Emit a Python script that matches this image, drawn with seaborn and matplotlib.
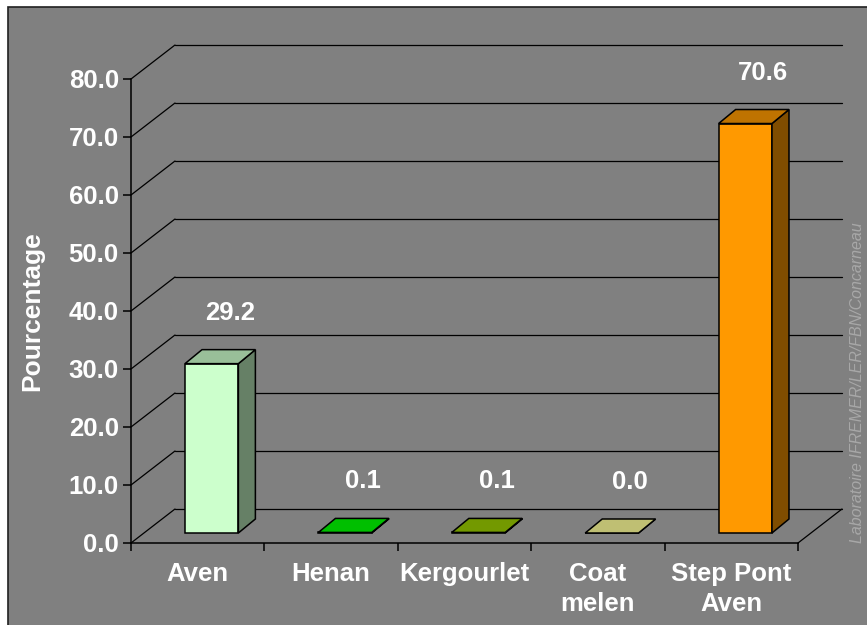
import numpy as np
import pandas as pd
import matplotlib.pyplot as plt
import matplotlib.transforms as mtransforms
from matplotlib.patches import Polygon, Rectangle
from matplotlib.lines import Line2D
import seaborn as sns

# Donnees
sites = ["Aven", "Henan", "Kergourlet", "Coat\nmelen", "Step Pont\nAven"]
pourcentages = [29.2, 0.1, 0.1, 0.0, 70.6]
couleurs = ["#CCFFCC", "#00FF00", "#99CC00", "#FFFF99", "#FF9900"]
graduations = [0, 10, 20, 30, 40, 50, 60, 70, 80]

sns.set_theme(style="white")
plt.rcParams['font.family'] = ['Liberation Sans', 'DejaVu Sans']

FOND = "#808080"
TAILLE = 18.5

fig = plt.figure(figsize=(8.67, 6.25), dpi=100, facecolor="white")
# cadre gris du graphique
fig.add_artist(Rectangle((8 / 867, -0.05), 1.1, 1.05 - 7 / 625,
                         transform=fig.transFigure, facecolor=FOND,
                         edgecolor="#202020", linewidth=1.2, zorder=0))

ax = fig.add_axes([131 / 867, 82 / 625, 667 / 867, 464 / 625])
ax.set_facecolor("none")

df = pd.DataFrame({"Site": sites, "Pourcentage": pourcentages})
sns.barplot(data=df, x="Site", y="Pourcentage", hue="Site", palette=couleurs,
            saturation=1, width=0.4, edgecolor="black", linewidth=1.1,
            legend=False, ax=ax, zorder=3)
barres = list(ax.patches)

ax.set_xlim(-0.5, 4.5)
ax.set_ylim(0, 80)

# decalages pour l'effet 3D (en pixels)
avant = mtransforms.offset_copy(ax.transData, fig=fig, x=14, y=10, units="dots")
arriere = mtransforms.offset_copy(ax.transData, fig=fig, x=31, y=24, units="dots")
fond = mtransforms.offset_copy(ax.transData, fig=fig, x=44, y=34, units="dots")
ecran = mtransforms.IdentityTransform()

# murs et quadrillage
for v in graduations:
    ax.add_line(Line2D([-0.5, 4.5], [v, v], transform=fond, color="black",
                       lw=0.9, zorder=1, clip_on=False))
    p0 = ax.transData.transform((-0.5, v))
    p1 = fond.transform((-0.5, v))
    ax.add_line(Line2D([p0[0], p1[0]], [p0[1], p1[1]], transform=ecran,
                       color="black", lw=0.9, zorder=1, clip_on=False))
p0 = ax.transData.transform((4.5, 0))
p1 = fond.transform((4.5, 0))
ax.add_line(Line2D([p0[0], p1[0]], [p0[1], p1[1]], transform=ecran,
                   color="black", lw=0.9, zorder=1, clip_on=False))

# barres en 3D
for p, v in zip(barres, pourcentages):
    x0, w, h = p.get_x(), p.get_width(), p.get_height()
    rgb = np.array(p.get_facecolor()[:3])
    p.set_transform(avant)
    p.set_clip_on(False)
    dessus = [avant.transform((x0, h)), avant.transform((x0 + w, h)),
              arriere.transform((x0 + w, h)), arriere.transform((x0, h))]
    cote = [avant.transform((x0 + w, 0)), arriere.transform((x0 + w, 0)),
            arriere.transform((x0 + w, h)), avant.transform((x0 + w, h))]
    ax.add_patch(Polygon(cote, closed=True, transform=ecran, facecolor=rgb * 0.5,
                         edgecolor="black", lw=1.1, zorder=3, clip_on=False))
    ax.add_patch(Polygon(dessus, closed=True, transform=ecran, facecolor=rgb * 0.75,
                         edgecolor="black", lw=1.1, zorder=3, clip_on=False))
    ax.annotate(f"{v:.1f}", xy=(x0 + w / 2, h), xytext=(32, 54),
                textcoords="offset pixels", ha="center", va="baseline",
                fontsize=TAILLE, fontweight="bold", color="white")

ax.set_xlim(-0.5, 4.5)
ax.set_ylim(0, 80)

# axes
for cote_ax in ["top", "right"]:
    ax.spines[cote_ax].set_visible(False)
for cote_ax in ["left", "bottom"]:
    ax.spines[cote_ax].set_color("black")
    ax.spines[cote_ax].set_linewidth(1.1)

ax.set_yticks(graduations, labels=[f"{v:.1f}" for v in graduations])
ax.set_xticks([-0.5, 0.5, 1.5, 2.5, 3.5, 4.5], labels=[""] * 6)
ax.set_xticks(range(len(sites)), labels=sites, minor=True)
ax.tick_params(axis="y", direction="out", length=5.8, width=1.1, color="black",
               pad=3, labelsize=TAILLE, labelcolor="white", left=True)
ax.tick_params(axis="x", which="major", direction="out", length=5.8, width=1.1,
               color="black", bottom=True)
ax.tick_params(axis="x", which="minor", length=0, pad=13.5, labelsize=TAILLE,
               labelcolor="white")
for lab in ax.get_yticklabels() + ax.get_xticklabels(minor=True):
    lab.set_fontweight("bold")
for lab in ax.get_xticklabels(minor=True):
    lab.set_linespacing(1.35)
ax.set_xlabel("")
ax.set_ylabel("")

fig.text(32 / 867, 1 - 311 / 625, "Pourcentage", rotation=90, ha="center",
         va="center", fontsize=19, fontweight="bold", color="white")
fig.text(858 / 867, 1 - 383 / 625, "Laboratoire IFREMER/LER/FBN/Concarneau",
         rotation=90, ha="center", va="center", fontsize=11.5, style="italic",
         color="#a8a8a8")

plt.savefig("out.png", dpi=100, facecolor=fig.get_facecolor())
